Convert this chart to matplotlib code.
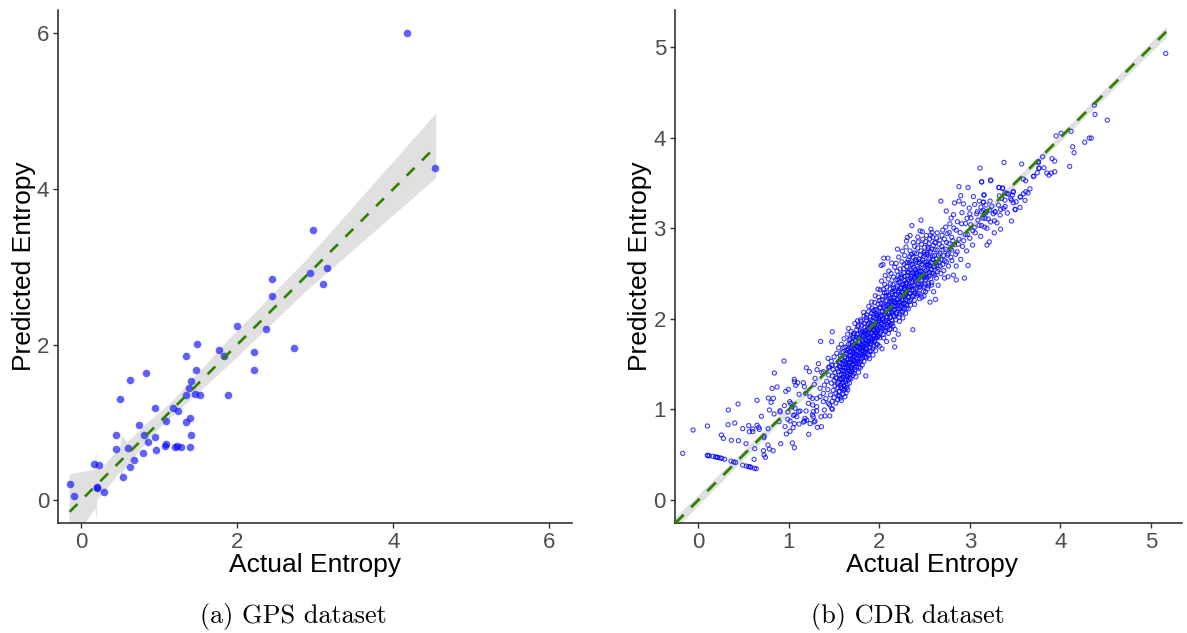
import matplotlib
matplotlib.use("Agg")
import matplotlib.pyplot as plt

plt.rcParams['font.family'] = ['Liberation Sans', 'DejaVu Sans']

# GPS panel
gps_x = [-0.15, -0.10, 0.16, 0.23, 0.205, 0.20, 0.295, 0.53, 0.44, 0.44, 0.50, 0.62, 0.83, 0.60, 0.63, 0.67, 0.735,
         0.79, 0.80, 0.86, 0.94, 0.96, 0.94, 1.09, 1.07, 1.08, 1.17, 1.24, 1.205, 1.23, 1.28, 1.34, 1.39, 1.40, 1.39,
         1.34, 1.375, 1.41, 1.46, 1.52, 1.47, 1.34, 1.48, 1.76, 1.825, 1.875, 2.0, 2.22, 2.22, 2.37, 2.45, 2.45,
         2.97, 2.93, 3.15, 3.10, 2.73, 4.54, 4.17]
gps_y = [0.21, 0.05, 0.46, 0.45, 0.16, 0.17, 0.11, 0.30, 0.66, 0.84, 1.30, 1.54, 1.63, 0.67, 0.43, 0.51, 0.97,
         0.60, 0.84, 0.75, 0.81, 0.65, 1.19, 1.02, 0.70, 0.72, 1.19, 1.15, 0.68, 0.70, 0.68, 1.00, 1.06, 0.84, 0.68,
         1.345, 1.44, 1.53, 1.36, 1.35, 1.67, 1.85, 2.01, 1.93, 1.855, 1.35, 2.24, 1.67, 1.90, 2.205, 2.84, 2.63,
         3.47, 2.92, 2.98, 2.78, 1.96, 4.27, 6.0]
gps_line_x = [-0.15, 4.55]
gps_line_y = [-0.15, 4.55]
gps_band_upper_x = [-0.15, -0.10, 0.17, 0.19, 0.205, 0.28, 0.50, 0.52, 0.59, 0.88, 1.17, 1.45, 1.90, 2.88, 4.55]
gps_band_upper_y = [0.32, 0.34, 0.39, 0.64, 0.40, 0.43, 0.68, 0.83, 0.74, 1.02, 1.27, 1.58, 2.07, 3.08, 4.97]
gps_band_lower_x = [4.55, 2.88, 1.90, 1.45, 1.17, 0.88, 0.72, 0.53, 0.52, 0.50, 0.30, 0.205, 0.195, 0.18, 0.05, -0.15]
gps_band_lower_y = [4.14, 2.68, 1.74, 1.33, 1.08, 0.80, 0.60, 0.36, 0.22, 0.36, 0.11, 0.00, -0.25, -0.11, -0.30, -0.30]

# CDR panel, sparse parts read point by point, dense parts estimated
cdr_low = [(-0.173, 0.515), (-0.058, 0.773), (0.10, 0.817), (0.332, 0.994), (0.439, 1.06), (0.649, 1.10), (0.328, 0.832),
           (0.402, 0.85), (0.49, 0.788), (0.557, 0.821), (0.601, 0.784), (0.564, 0.755), (0.601, 0.755), (0.649, 0.825),
           (0.667, 0.802), (0.675, 0.78), (0.697, 0.924), (0.77, 0.788), (0.726, 0.707), (0.726, 0.688), (0.255, 0.718),
           (0.277, 0.681), (0.365, 0.659), (0.443, 0.655), (0.527, 0.622), (0.623, 0.567), (0.616, 0.449), (0.719, 0.545),
           (0.77, 0.607), (0.785, 0.563), (0.826, 0.545), (0.726, 0.497), (0.741, 0.471), (0.91, 0.622), (1.039, 0.63),
           (1.061, 0.578), (0.973, 0.729), (1.013, 0.758), (1.047, 0.799), (0.958, 0.81), (1.061, 0.843), (1.113, 0.839),
           (1.161, 0.861), (1.22, 0.725), (1.316, 0.802), (1.36, 0.81), (1.234, 0.843), (0.837, 0.95), (0.785, 0.994),
           (0.892, 0.865), (0.903, 0.986), (0.903, 0.972), (0.951, 1.042), (0.991, 0.972), (0.988, 0.891), (1.013, 0.872),
           (1.05, 0.935), (1.065, 0.939), (1.087, 0.92), (1.109, 0.975), (1.124, 0.983), (1.19, 0.983), (1.179, 0.902),
           (1.172, 0.872), (1.198, 0.883), (1.01, 1.086), (1.021, 1.067), (1.036, 1.03), (1.069, 1.012), (0.774, 1.126),
           (0.829, 1.122), (0.804, 1.078), (0.815, 1.233), (0.87, 1.248), (0.84, 1.402), (0.947, 1.535), (0.966, 1.2),
           (0.995, 1.222), (1.061, 1.332), (1.061, 1.306), (1.076, 1.266), (1.098, 1.295), (1.161, 1.295), (1.172, 1.251),
           (1.113, 1.167), (1.194, 1.461), (1.227, 1.417), (1.312, 1.439), (1.327, 1.505), (1.433, 1.564), (1.187, 1.178),
           (1.234, 1.141), (1.29, 1.343), (1.282, 1.277), (1.363, 1.406), (1.382, 1.417), (1.437, 1.465), (1.474, 1.49),
           (1.26, 1.122), (1.31, 1.122), (1.216, 1.067), (1.264, 1.049), (1.308, 1.031), (1.345, 1.233), (1.393, 1.27),
           (1.382, 1.178), (1.345, 1.141), (1.382, 1.086), (1.437, 1.067), (1.481, 1.001), (1.474, 1.012), (1.271, 0.975),
           (1.26, 0.939), (1.308, 0.983), (1.29, 0.872), (1.279, 0.861), (1.356, 0.92), (1.40, 0.928), (1.452, 0.928),
           (1.393, 0.994), (1.271, 0.92)]
cdr_streak = [(0.10, 0.494), (0.105, 0.49), (0.12, 0.488), (0.16, 0.482), (0.19, 0.476), (0.205, 0.472), (0.215, 0.47),
              (0.24, 0.465), (0.26, 0.46), (0.29, 0.45), (0.36, 0.43), (0.39, 0.42), (0.41, 0.415), (0.49, 0.385),
              (0.53, 0.375), (0.555, 0.37), (0.57, 0.365), (0.58, 0.362), (0.62, 0.35), (0.64, 0.345)]
cdr_band_a = [(1.41, 1.12), (1.42, 1.31), (1.43, 1.22), (1.44, 1.38), (1.45, 1.05), (1.45, 1.47), (1.46, 1.16), (1.47, 1.29),
              (1.47, 1.53), (1.48, 1.09), (1.48, 1.37), (1.49, 1.21), (1.49, 1.44), (1.50, 1.13), (1.50, 1.32), (1.50, 1.58),
              (1.51, 1.26), (1.51, 1.41), (1.52, 1.07), (1.52, 1.18), (1.52, 1.49), (1.53, 1.35), (1.53, 1.62), (1.54, 1.11),
              (1.54, 1.24), (1.54, 1.45), (1.55, 1.30), (1.55, 1.53), (1.55, 1.68), (1.56, 1.15), (1.56, 1.38), (1.56, 1.20),
              (1.57, 1.47), (1.57, 1.27), (1.57, 1.59), (1.58, 1.10), (1.58, 1.34), (1.58, 1.72), (1.59, 1.23), (1.59, 1.43),
              (1.59, 1.55), (1.60, 1.17), (1.60, 1.30), (1.60, 1.50), (1.60, 1.64), (1.61, 1.39), (1.61, 1.26), (1.61, 1.78),
              (1.62, 1.46), (1.62, 1.58), (1.62, 1.14), (1.63, 1.33), (1.63, 1.69), (1.63, 1.52), (1.64, 1.41), (1.64, 1.24),
              (1.64, 1.62), (1.65, 1.49), (1.65, 1.83), (1.65, 1.36), (1.66, 1.56), (1.66, 1.72), (1.66, 1.44), (1.67, 1.29),
              (1.67, 1.64), (1.67, 1.52), (1.68, 1.39), (1.68, 1.78), (1.68, 1.60), (1.69, 1.47), (1.69, 1.68), (1.69, 1.86),
              (1.70, 1.55), (1.70, 1.42), (1.70, 1.74), (1.66, 1.895), (1.48, 1.858), (1.473, 1.748), (1.351, 1.751)]
cdr_band_b = [(1.71, 1.63), (1.71, 1.50), (1.71, 1.82), (1.72, 1.58), (1.72, 1.71), (1.72, 1.40), (1.73, 1.95), (1.73, 1.66),
              (1.73, 1.53), (1.74, 1.36), (1.74, 1.77), (1.74, 1.61), (1.75, 1.88), (1.75, 1.47), (1.75, 1.70), (1.76, 1.56),
              (1.76, 1.83), (1.76, 1.64), (1.77, 1.41), (1.77, 1.74), (1.77, 1.93), (1.78, 1.52), (1.78, 1.68), (1.78, 1.80),
              (1.79, 1.60), (1.79, 1.46), (1.79, 1.87), (1.80, 1.72), (1.80, 1.56), (1.80, 1.97), (1.81, 1.65), (1.81, 1.79),
              (1.81, 1.49), (1.82, 1.60), (1.82, 1.85), (1.82, 1.72), (1.83, 2.03), (1.83, 1.53), (1.83, 1.67), (1.84, 1.78),
              (1.84, 1.91), (1.84, 1.62), (1.85, 1.37), (1.85, 1.72), (1.85, 1.84), (1.86, 1.57), (1.86, 1.98), (1.86, 1.67),
              (1.87, 1.79), (1.87, 1.90), (1.87, 1.62), (1.88, 1.74), (1.88, 2.08), (1.88, 1.85), (1.89, 1.68), (1.89, 1.96),
              (1.89, 1.56), (1.90, 1.79), (1.90, 1.89), (1.90, 2.02), (1.91, 1.73), (1.91, 1.65), (1.91, 1.94), (1.92, 1.84),
              (1.92, 2.12), (1.92, 1.77), (1.93, 1.60), (1.93, 1.98), (1.93, 1.88), (1.94, 1.70), (1.94, 2.05), (1.94, 1.81),
              (1.95, 1.93), (1.95, 1.75), (1.95, 2.18), (1.96, 1.86), (1.96, 2.00), (1.96, 1.65), (1.97, 2.10), (1.97, 1.79),
              (1.97, 1.94), (1.98, 1.72), (1.98, 2.04), (1.98, 1.87), (1.99, 2.24), (1.99, 1.98), (1.99, 1.81), (2.00, 2.12),
              (2.00, 1.90), (2.00, 1.70)]
cdr_band_c = [(2.01, 2.03), (2.01, 1.84), (2.01, 2.32), (2.02, 1.96), (2.02, 2.17), (2.02, 2.59), (2.03, 1.67), (2.03, 2.08),
              (2.03, 1.89), (2.04, 2.25), (2.04, 2.00), (2.04, 2.60), (2.05, 1.79), (2.05, 2.13), (2.05, 2.67), (2.05, 1.93),
              (2.06, 2.05), (2.06, 2.38), (2.07, 1.86), (2.07, 2.20), (2.07, 1.98), (2.08, 2.10), (2.08, 2.29), (2.08, 1.75),
              (2.09, 2.02), (2.09, 1.91), (2.095, 2.67), (2.10, 2.15), (2.10, 2.44), (2.10, 1.84), (2.11, 2.07), (2.11, 2.25),
              (2.11, 1.96), (2.12, 2.33), (2.12, 2.12), (2.12, 2.02), (2.13, 1.89), (2.13, 2.19), (2.13, 2.50), (2.14, 2.08),
              (2.14, 2.28), (2.14, 1.98), (2.15, 2.38), (2.15, 2.14), (2.15, 1.92), (2.16, 2.23), (2.16, 2.04), (2.16, 1.77),
              (2.17, 2.31), (2.17, 2.10), (2.17, 2.57), (2.17, 1.69), (2.18, 2.18), (2.18, 2.43), (2.18, 1.99), (2.19, 2.27),
              (2.19, 2.07), (2.20, 2.36), (2.20, 2.77), (2.20, 2.15), (2.21, 2.48), (2.21, 1.83), (2.21, 2.22), (2.22, 2.02),
              (2.22, 2.31), (2.22, 2.11), (2.23, 2.41), (2.23, 2.55), (2.23, 2.19), (2.24, 2.26), (2.24, 2.08), (2.24, 2.35),
              (2.25, 2.45), (2.25, 2.14), (2.25, 2.63), (2.26, 2.29), (2.26, 2.21), (2.26, 2.01), (2.27, 2.38), (2.27, 2.51),
              (2.27, 2.12), (2.28, 2.25), (2.28, 2.43), (2.28, 2.70), (2.29, 2.33), (2.29, 2.17), (2.29, 2.06), (2.30, 2.58),
              (2.30, 2.40), (2.30, 2.27), (2.30, 2.86), (2.31, 2.48), (2.31, 2.20), (2.31, 2.90), (2.32, 2.34), (2.32, 2.65),
              (2.32, 2.11), (2.33, 2.42), (2.33, 2.54), (2.33, 2.28), (2.34, 2.75), (2.34, 2.36), (2.34, 2.92), (2.35, 2.47),
              (2.35, 2.21), (2.35, 2.60), (2.36, 2.31), (2.36, 3.03), (2.36, 2.41), (2.37, 2.68), (2.37, 1.88), (2.37, 2.51),
              (2.38, 2.26), (2.38, 2.37), (2.38, 2.57), (2.39, 2.80), (2.39, 2.45), (2.39, 2.16), (2.40, 2.33), (2.40, 2.63)]
cdr_band_d = [(2.41, 2.50), (2.41, 2.40), (2.41, 2.72), (2.42, 2.28), (2.42, 2.58), (2.43, 2.45), (2.43, 2.85), (2.44, 2.35),
              (2.44, 2.66), (2.45, 2.97), (2.45, 2.53), (2.46, 3.09), (2.46, 2.42), (2.46, 2.75), (2.47, 2.24), (2.47, 2.60),
              (2.48, 2.48), (2.48, 2.88), (2.49, 2.36), (2.49, 2.69), (2.50, 2.55), (2.50, 2.79), (2.51, 2.43), (2.51, 2.30),
              (2.52, 2.63), (2.52, 2.92), (2.53, 2.50), (2.53, 2.73), (2.54, 2.39), (2.54, 2.60), (2.55, 2.83), (2.55, 2.47),
              (2.56, 2.185), (2.56, 2.68), (2.57, 2.55), (2.57, 2.99), (2.58, 2.40), (2.58, 2.77), (2.59, 2.62), (2.59, 2.90),
              (2.60, 2.50), (2.60, 2.30), (2.61, 2.70), (2.61, 2.58), (2.62, 2.215), (2.62, 2.84), (2.63, 2.45), (2.63, 2.66),
              (2.64, 2.95), (2.64, 2.76), (2.65, 2.55), (2.65, 2.37), (2.66, 2.63), (2.67, 2.87), (2.67, 2.72), (2.68, 3.30),
              (2.68, 2.50), (2.69, 2.80), (2.70, 2.60), (2.70, 2.98), (2.71, 2.70), (2.72, 2.45), (2.72, 2.88), (2.73, 2.77),
              (2.74, 3.19), (2.74, 2.63), (2.75, 2.94), (2.76, 2.72), (2.76, 2.465), (2.77, 2.83), (2.78, 3.05), (2.79, 2.68),
              (2.80, 2.90), (2.80, 2.76), (2.82, 2.483), (2.82, 3.15), (2.83, 3.28), (2.83, 2.82), (2.85, 2.43), (2.85, 2.98),
              (2.85, 2.583), (2.86, 2.74), (2.88, 3.46), (2.88, 3.30), (2.88, 2.88), (2.90, 2.656), (2.90, 3.36), (2.91, 3.05)]
cdr_band_e = [(2.92, 2.80), (2.93, 3.27), (2.94, 2.45), (2.95, 2.93), (2.965, 2.75), (2.97, 3.11), (2.98, 3.45), (2.98, 2.59),
              (3.00, 3.16), (3.00, 2.89), (3.01, 3.04), (3.03, 2.815), (3.04, 3.35), (3.05, 3.01), (3.06, 2.95), (3.075, 3.16),
              (3.09, 3.09), (3.105, 3.30), (3.12, 2.91), (3.13, 3.51), (3.13, 3.03), (3.149, 3.20), (3.15, 3.29), (3.156, 3.37),
              (3.17, 3.11), (3.19, 2.815), (3.19, 3.00), (3.215, 2.85), (3.22, 3.20), (3.23, 3.525), (3.23, 3.07), (3.26, 3.16),
              (3.27, 2.95), (3.28, 3.18), (3.30, 3.06), (3.32, 3.45), (3.34, 2.99), (3.36, 3.44), (3.39, 3.24), (3.41, 3.385),
              (3.46, 3.08), (3.46, 3.31), (3.48, 3.40), (3.50, 3.21)]
# extra estimated marks for the crowded core of the cloud
cdr_core = [(1.537, 1.283), (1.548, 1.417), (1.553, 1.196), (1.563, 1.336), (1.567, 1.512), (1.574, 1.243), (1.582, 1.391), (1.586, 1.628),
            (1.593, 1.288), (1.597, 1.468), (1.603, 1.356), (1.607, 1.213), (1.613, 1.532), (1.617, 1.427), (1.624, 1.304), (1.628, 1.606),
            (1.633, 1.183), (1.637, 1.463), (1.642, 1.547), (1.646, 1.277), (1.653, 1.385), (1.657, 1.668), (1.661, 1.327), (1.664, 1.511),
            (1.672, 1.423), (1.676, 1.587), (1.679, 1.726), (1.684, 1.338), (1.688, 1.523), (1.693, 1.641), (1.697, 1.448), (1.702, 1.612),
            (1.706, 1.793), (1.708, 1.376), (1.713, 1.543), (1.717, 1.677), (1.723, 1.463), (1.727, 1.836), (1.732, 1.592), (1.737, 1.726),
            (1.742, 1.508), (1.746, 1.651), (1.752, 1.792), (1.757, 1.533), (1.761, 1.912), (1.766, 1.688), (1.771, 1.587), (1.774, 1.466),
            (1.783, 1.741), (1.787, 1.626), (1.792, 1.847), (1.796, 1.532), (1.803, 1.683), (1.807, 1.928), (1.812, 1.766), (1.816, 1.577),
            (1.823, 1.649), (1.827, 1.813), (1.833, 1.947), (1.836, 1.732), (1.842, 1.583), (1.847, 1.868), (1.853, 1.668), (1.857, 1.763),
            (1.862, 2.043), (1.866, 1.826), (1.872, 1.712), (1.877, 1.948), (1.883, 1.602), (1.886, 1.793), (1.892, 1.881), (1.897, 1.724),
            (1.903, 1.987), (1.907, 1.838), (1.913, 2.063), (1.917, 1.752), (1.923, 1.906), (1.927, 1.671), (1.933, 1.823), (1.937, 2.017),
            (1.942, 1.932), (1.946, 1.768), (1.952, 2.103), (1.957, 1.848), (1.963, 1.963), (1.967, 1.716), (1.972, 2.042), (1.976, 1.887),
            (1.982, 1.804), (1.986, 2.163), (1.992, 1.928), (1.996, 2.051), (2.003, 1.792), (2.007, 1.978), (2.013, 2.126), (2.017, 1.863),
            (2.023, 2.037), (2.027, 1.942), (2.033, 2.212), (2.037, 2.083), (2.042, 1.827), (2.046, 2.153), (2.053, 1.968), (2.057, 2.287),
            (2.063, 2.077), (2.067, 1.902), (2.072, 2.142), (2.076, 2.023), (2.083, 2.351), (2.087, 2.198), (2.092, 1.963), (2.096, 2.076),
            (2.103, 2.263), (2.107, 2.126), (2.113, 1.883), (2.117, 2.013), (2.123, 2.387), (2.127, 2.228), (2.133, 2.071), (2.137, 2.163),
            (2.142, 1.948), (2.146, 2.303), (2.153, 2.096), (2.157, 2.462), (2.163, 2.193), (2.167, 2.023), (2.172, 2.268), (2.176, 2.136),
            (2.183, 2.341), (2.187, 2.053), (2.192, 2.212), (2.196, 2.527), (2.203, 2.118), (2.207, 2.293), (2.213, 2.178), (2.217, 2.403),
            (2.223, 1.973), (2.227, 2.243), (2.233, 2.333), (2.237, 2.123), (2.243, 2.488), (2.247, 2.206), (2.253, 2.378), (2.257, 2.072),
            (2.263, 2.263), (2.267, 2.553), (2.273, 2.168), (2.277, 2.326), (2.283, 2.468), (2.287, 2.213), (2.293, 2.383), (2.297, 2.113),
            (2.303, 2.303), (2.307, 2.623), (2.313, 2.433), (2.317, 2.246), (2.323, 2.513), (2.327, 2.357), (2.333, 2.193), (2.337, 2.688),
            (2.343, 2.283), (2.347, 2.447), (2.353, 2.543), (2.357, 2.363), (2.363, 2.248), (2.367, 2.603), (2.373, 2.431), (2.377, 2.323),
            (2.383, 2.493), (2.387, 2.728), (2.393, 2.283), (2.397, 2.543), (2.403, 2.423), (2.407, 2.653), (2.413, 2.343), (2.417, 2.478),
            (2.423, 2.783), (2.427, 2.553), (2.433, 2.383), (2.437, 2.283), (2.443, 2.613), (2.447, 2.463), (2.453, 2.703), (2.457, 2.353),
            (2.463, 2.523), (2.467, 2.823), (2.473, 2.433), (2.477, 2.653), (2.483, 2.563), (2.487, 2.303), (2.493, 2.733), (2.497, 2.463),
            (2.503, 2.623), (2.507, 2.383), (2.513, 2.853), (2.517, 2.533), (2.523, 2.713), (2.527, 2.453), (2.533, 2.593), (2.537, 2.793),
            (2.543, 2.363), (2.547, 2.663), (2.553, 2.513), (2.557, 2.883), (2.563, 2.743), (2.567, 2.443), (2.573, 2.623), (2.577, 2.543),
            (2.583, 2.953), (2.587, 2.693), (2.597, 2.813), (2.603, 2.573), (2.613, 2.483), (2.617, 2.763), (2.627, 2.623), (2.633, 2.893),
            (2.643, 2.523), (2.653, 2.703), (2.663, 2.823), (2.673, 2.583), (2.683, 2.653), (2.693, 2.923), (2.703, 2.763), (2.713, 2.533),
            (2.723, 2.643), (2.733, 3.013), (2.743, 2.843), (2.753, 2.703), (2.763, 2.583), (2.773, 2.953), (2.783, 2.773), (2.793, 3.113),
            (2.803, 2.643), (2.813, 2.863), (2.823, 3.003), (2.843, 2.713), (2.863, 3.073), (2.873, 2.823), (2.893, 2.953), (2.913, 3.173),
            (2.933, 2.863), (2.953, 3.053), (2.973, 2.933), (2.993, 3.223), (3.013, 3.113), (3.033, 2.973), (3.053, 3.263), (3.083, 3.183),
            (3.103, 3.033), (3.123, 3.233), (3.143, 3.113), (3.163, 3.013), (3.183, 3.183), (3.203, 3.103), (3.243, 3.243), (3.273, 3.083)]
# second pass over the darkest stretch and its wider edges
cdr_core2 = [(1.518, 1.347), (1.544, 1.153), (1.558, 1.472), (1.571, 1.126), (1.579, 1.563), (1.589, 1.333), (1.601, 1.421), (1.609, 1.683),
             (1.619, 1.228), (1.626, 1.499), (1.635, 1.367), (1.644, 1.654), (1.651, 1.218), (1.659, 1.462), (1.668, 1.768), (1.674, 1.349),
             (1.682, 1.558), (1.691, 1.412), (1.699, 1.704), (1.704, 1.488), (1.716, 1.839), (1.721, 1.627), (1.729, 1.438), (1.734, 1.762),
             (1.744, 1.569), (1.753, 1.692), (1.759, 1.978), (1.768, 1.508), (1.776, 1.786), (1.785, 1.672), (1.794, 1.988), (1.802, 1.604),
             (1.811, 1.863), (1.819, 1.698), (1.826, 2.072), (1.838, 1.841), (1.845, 1.643), (1.855, 2.013), (1.864, 1.732), (1.874, 1.884),
             (1.884, 2.138), (1.894, 1.642), (1.905, 1.917), (1.915, 2.186), (1.925, 1.781), (1.935, 2.092), (1.945, 1.876), (1.955, 2.256),
             (1.965, 2.058), (1.975, 1.831), (1.985, 2.328), (1.995, 2.006), (2.005, 2.204), (2.015, 1.911), (2.025, 2.418), (2.035, 1.986),
             (2.045, 2.326), (2.055, 1.873), (2.065, 2.478), (2.075, 2.257), (2.085, 1.938), (2.105, 2.528), (2.115, 2.182), (2.125, 1.938),
             (2.135, 2.616), (2.145, 2.207), (2.155, 2.338), (2.175, 1.883), (2.185, 2.612), (2.195, 2.174), (2.205, 2.428), (2.215, 2.682),
             (2.225, 2.053), (2.235, 2.463), (2.245, 2.298), (2.255, 2.748), (2.265, 2.163), (2.275, 2.603), (2.285, 2.353), (2.295, 2.793),
             (2.305, 2.153), (2.315, 2.518), (2.325, 2.243), (2.335, 2.623), (2.345, 2.153), (2.355, 2.713), (2.365, 2.473), (2.375, 2.843),
             (2.385, 2.203), (2.395, 2.648), (2.405, 2.513), (2.415, 2.263), (2.425, 2.903), (2.435, 2.523), (2.445, 2.223), (2.455, 2.633),
             (2.465, 2.373), (2.475, 2.963), (2.485, 2.493), (2.495, 2.253), (2.505, 2.713), (2.515, 2.473), (2.525, 2.603), (2.535, 2.333),
             (2.545, 2.773), (2.555, 2.583), (2.565, 2.923), (2.575, 2.373), (2.585, 2.503), (2.595, 2.653), (2.615, 2.843), (2.635, 2.583)]
cdr_high = [(5.165, 4.93), (4.376, 4.36), (4.384, 4.257), (4.52, 4.194), (4.12, 4.07), (4.008, 4.05), (3.953, 4.02), (4.32, 3.996),
            (4.343, 3.996), (4.27, 3.95), (4.137, 3.90), (4.152, 3.834), (3.909, 3.768), (3.938, 3.742), (3.805, 3.79),
            (3.758, 3.738), (3.758, 3.725), (4.104, 3.683), (3.573, 3.709), (3.378, 3.727), (3.761, 3.661), (3.768, 3.665),
            (3.82, 3.668), (3.702, 3.572), (3.708, 3.576), (3.85, 3.61), (3.875, 3.587), (3.90, 3.61), (3.938, 3.624),
            (3.746, 3.613), (3.592, 3.543), (3.618, 3.525), (3.231, 3.532), (3.131, 3.514), (3.113, 3.665), (3.323, 3.451),
            (3.363, 3.444), (3.665, 3.436), (3.157, 3.366), (3.643, 3.389), (3.618, 3.403), (3.592, 3.381), (3.562, 3.348),
            (3.556, 3.345), (3.481, 3.407), (3.389, 3.392), (3.426, 3.378), (3.47, 3.366), (3.452, 3.33), (3.481, 3.282),
            (3.511, 3.293), (3.61, 3.308), (3.555, 3.23), (3.503, 3.205), (3.415, 3.168), (3.327, 3.359), (3.352, 3.33),
            (3.389, 3.311), (3.316, 3.256), (3.371, 3.219), (3.341, 3.208), (3.279, 3.182), (3.334, 3.146), (3.224, 3.30),
            (3.179, 3.256), (3.15, 3.286), (3.131, 3.182), (3.168, 3.165)]
cdr_line_x = [-0.258, 5.17]
cdr_line_y = [-0.258, 5.17]
cdr_band_x = [-0.258, 0.5, 1.5, 2.2, 3.0, 4.0, 5.17]
cdr_band_upper = [-0.19, 0.55, 1.53, 2.22, 3.03, 4.04, 5.23]
cdr_band_lower = [-0.32, 0.45, 1.47, 2.18, 2.97, 3.96, 5.11]

gps_ticks = [0, 2, 4, 6]
cdr_ticks = [0, 1, 2, 3, 4, 5]
dot_color = "#0000ff"
line_color = "#2f8000"
band_color = "#e0e0e0"
W, H = 1187, 633


def make_axes(left, right, top, bottom, xlim, ylim, ticks):
    ax = fig.add_axes([left / W, 1 - bottom / H, (right - left) / W, (bottom - top) / H])
    ax.set_xlim(xlim)
    ax.set_ylim(ylim)
    ax.set_xticks(ticks)
    ax.set_yticks(ticks)
    ax.spines["top"].set_visible(False)
    ax.spines["right"].set_visible(False)
    ax.spines["left"].set_linewidth(1.1)
    ax.spines["bottom"].set_linewidth(1.1)
    ax.spines["left"].set_color("#222222")
    ax.spines["bottom"].set_color("#222222")
    ax.tick_params(length=3.5, width=1.0, color="#333333", labelcolor="#4d4d4d", labelsize=16, pad=3)
    ax.set_xlabel("Actual Entropy", fontsize=19, labelpad=0)
    ax.set_ylabel("Predicted Entropy", fontsize=19, labelpad=1)
    return ax


fig = plt.figure(figsize=(W / 100, H / 100), dpi=100)

# left panel
ax1 = make_axes(58.3, 572, 10, 522.7, (-0.295, 6.29), (-0.29, 6.3), gps_ticks)
ax1.fill(gps_band_upper_x + gps_band_lower_x, gps_band_upper_y + gps_band_lower_y,
         color=band_color, lw=0, zorder=1)
ax1.scatter(gps_x, gps_y, s=30, color=dot_color, alpha=0.62, linewidths=0, zorder=2)
ax1.plot(gps_line_x, gps_line_y, color=line_color, lw=1.9, dashes=(4.2, 4.0), zorder=3)

# right panel
ax2 = make_axes(675, 1182, 10, 523.3, (-0.258, 5.345), (-0.257, 5.41), cdr_ticks)
ax2.xaxis.label.set_x(0.507)
cdr_points = (cdr_low + cdr_streak + cdr_band_a + cdr_band_b + cdr_band_c + cdr_band_d + cdr_band_e
              + cdr_core + cdr_core2 + cdr_high)
cdr_x = [p[0] for p in cdr_points]
cdr_y = [p[1] for p in cdr_points]
ax2.fill_between(cdr_band_x, cdr_band_lower, cdr_band_upper, color=band_color, lw=0, zorder=1)
ax2.scatter(cdr_x, cdr_y, s=9, facecolors="none", edgecolors=dot_color, alpha=0.75, linewidths=0.8, zorder=2)
ax2.plot(cdr_line_x, cdr_line_y, color=line_color, lw=2.0, dashes=(4.4, 3.8), zorder=3)

# captions under each panel
fig.text(293 / W, 1 - 617 / H, "(a) GPS dataset", family="cmr10", fontsize=18.9, ha="center", va="center")
fig.text(908 / W, 1 - 617 / H, "(b) CDR dataset", family="cmr10", fontsize=18.9, ha="center", va="center")

fig.savefig("out.png", dpi=100)
